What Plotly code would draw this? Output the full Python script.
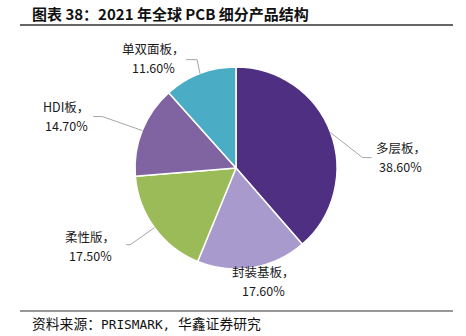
import math
import plotly.graph_objects as go

# ---- data ----
categories = ["多层板", "封装基板", "柔性版", "HDI板", "单双面板"]
values = [38.6, 17.6, 17.5, 14.7, 11.6]
value_labels = ["38.60%", "17.60%", "17.50%", "14.70%", "11.60%"]
colors = ["#4E2F82", "#A89ACD", "#9BBB59", "#8064A2", "#4BACC6"]

title_text = "图表 38：2021 年全球 PCB 细分产品结构"
source_cjk1 = "资料来源："
source_latin = "PRISMARK,"
source_cjk2 = "华鑫证券研究"

# ---- layout (pixels) ----
W, H = 466, 336
cx, cy, R = 236, 168, 101

# label offsets (pixels, relative to slice mid-point on rim)
label_offsets = [(70, 24), (11, 13), (-64, 18), (-76, -15), (-47, -16)]
# leader elbows (relative to rim point); None = no leader
leader_paths = [
    [(32, 25), (41, 25)],
    None,
    [(-24, 17), (-28, 17)],
    [(-40, -14), (-49, -14)],
    [(-3, -14), (-14, -14)],
]

def px(x, y):
    return x / W, 1 - y / H

fig = go.Figure()
x0, y1 = px(cx - R, cy - R)
x1, y0 = px(cx + R, cy + R)
fig.add_trace(go.Pie(
    labels=categories, values=values, sort=False, direction="clockwise",
    rotation=0, marker=dict(colors=colors, line=dict(color="white", width=1.5)),
    textinfo="none", hoverinfo="label+percent", showlegend=False,
    domain=dict(x=[x0, x1], y=[y0, y1]),
))

total = sum(values)
cum = 0
annotations = []
shapes = []
font_lbl = "Noto Sans CJK SC"
for i, v in enumerate(values):
    mid = (cum + v / 2) / total
    cum += v
    th = 2 * math.pi * mid
    ax_, ay_ = cx + R * math.sin(th), cy - R * math.cos(th)
    dx, dy = label_offsets[i]
    for k, txt in enumerate([f"{categories[i]}，", value_labels[i]]):
        lx, ly = px(ax_ + dx, ay_ + dy - 9.5 + 19 * k)
        annotations.append(dict(
            x=lx, y=ly, xref="paper", yref="paper", showarrow=False,
            text=txt, font=dict(family=font_lbl, size=12.5, color="#1a1a1a"),
            xanchor="center", yanchor="middle",
        ))
    if leader_paths[i]:
        pts = [(ax_, ay_)] + [(ax_ + a, ay_ + b) for a, b in leader_paths[i]]
        path = "M " + " L ".join(f"{p[0]/W},{1-p[1]/H}" for p in pts)
        shapes.append(dict(type="path", path=path, xref="paper", yref="paper",
                           line=dict(color="#A6A6A6", width=1)))

# title & source rules
shapes.append(dict(type="line", xref="paper", yref="paper",
                   x0=20 / W, x1=453 / W, y0=1 - 25 / H, y1=1 - 25 / H,
                   line=dict(color="#333333", width=1.5)))
shapes.append(dict(type="line", xref="paper", yref="paper",
                   x0=20 / W, x1=453 / W, y0=1 - 311 / H, y1=1 - 311 / H,
                   line=dict(color="#333333", width=1.2)))
annotations.append(dict(
    x=30 / W, y=1 - 14 / H, xref="paper", yref="paper", showarrow=False,
    text=f"<b>{title_text}</b>", xanchor="left", yanchor="middle",
    font=dict(family="Noto Sans CJK SC", size=15, color="#111111"),
))
annotations.append(dict(
    x=30 / W, y=1 - 323 / H, xref="paper", yref="paper", showarrow=False,
    text=(f"{source_cjk1}<span style='font-family:DejaVu Sans Mono;font-size:12.8px'>"
          f"{source_latin} </span>{source_cjk2}"),
    xanchor="left", yanchor="middle",
    font=dict(family="Noto Sans CJK SC", size=13.8, color="#111111"),
))

fig.update_layout(
    width=W, height=H, margin=dict(l=0, r=0, t=0, b=0),
    paper_bgcolor="white", plot_bgcolor="white",
    annotations=annotations, shapes=shapes,
)
fig.write_html("out.html")
